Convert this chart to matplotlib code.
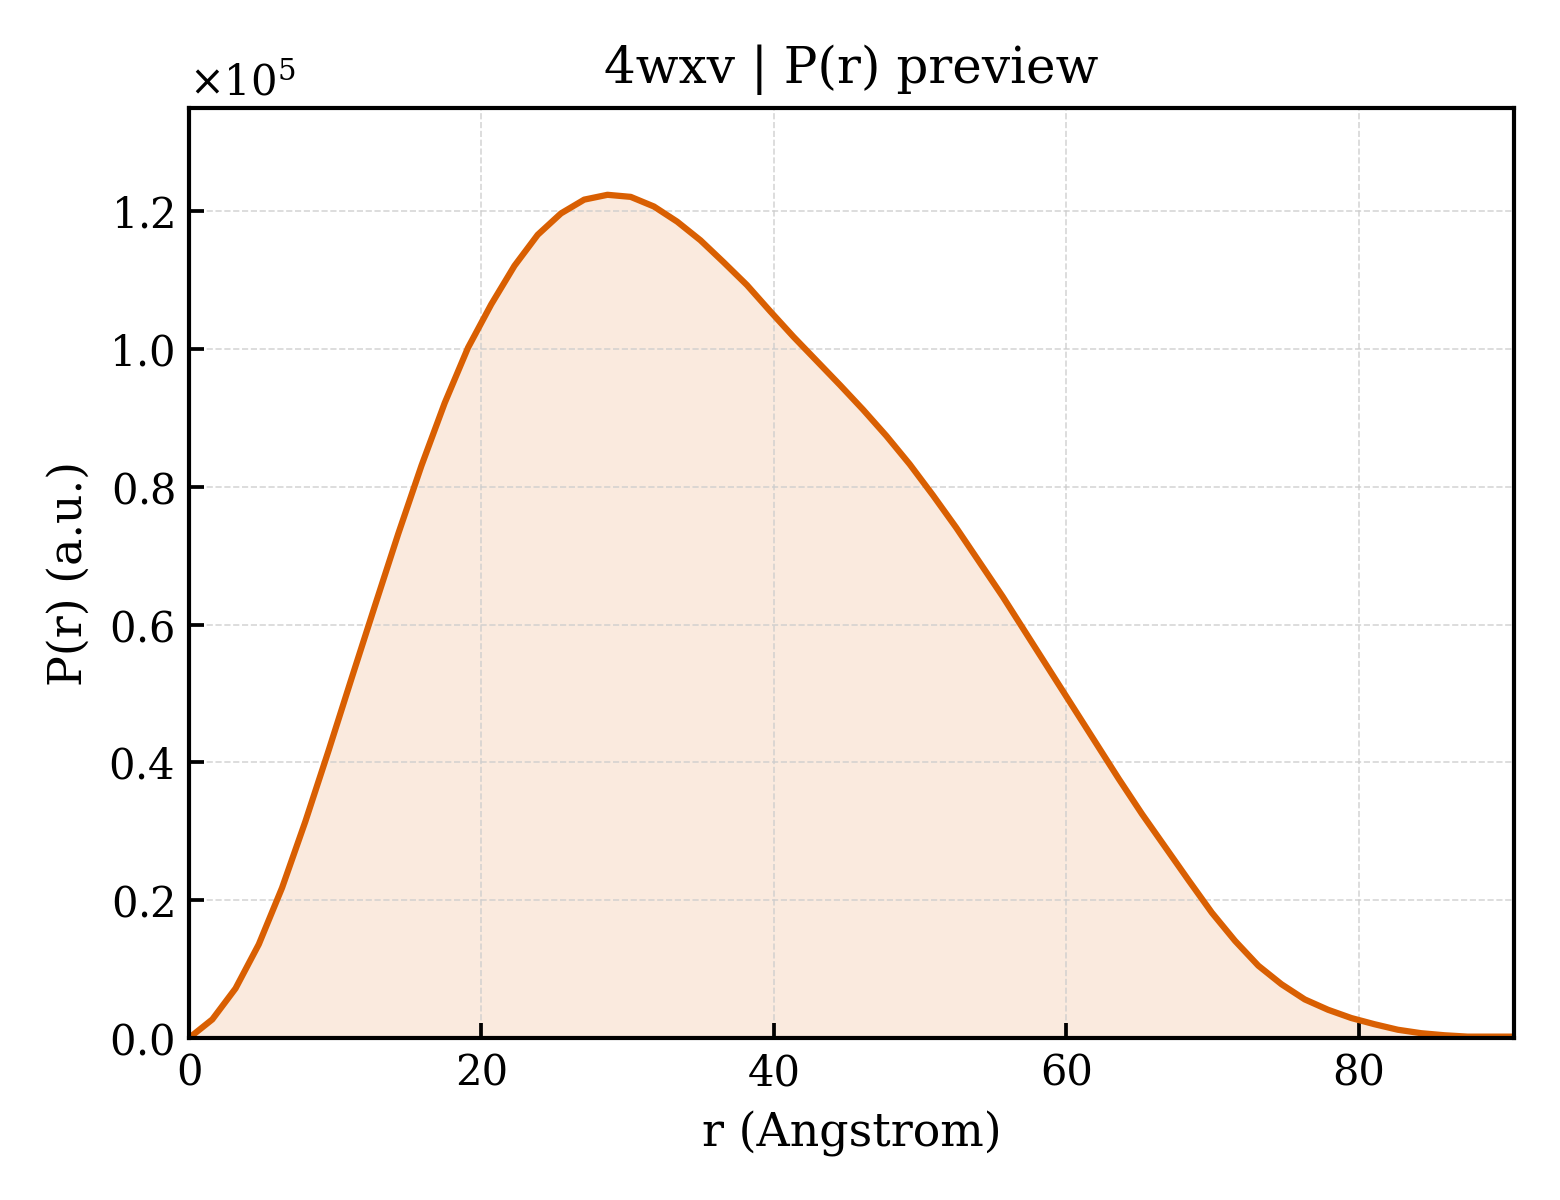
import numpy as np
import matplotlib
matplotlib.use("Agg")
import matplotlib.pyplot as plt
from matplotlib.ticker import ScalarFormatter

r = [0.00, 1.59, 3.18, 4.77, 6.36, 7.95, 9.54, 11.13, 12.72, 14.31,
     15.90, 17.49, 19.08, 20.67, 22.26, 23.85, 25.44, 27.03, 28.62, 30.21,
     31.80, 33.39, 34.98, 36.57, 38.16, 39.75, 41.34, 42.93, 44.52, 46.11,
     47.70, 49.29, 50.88, 52.47, 54.06, 55.65, 57.24, 58.83, 60.42, 62.01,
     63.60, 65.19, 66.78, 68.37, 69.96, 71.55, 73.14, 74.73, 76.32, 77.91,
     79.50, 81.09, 82.68, 84.27, 85.86, 87.45, 89.04, 90.63]
pr_scaled = [0.000, 0.027, 0.072, 0.136, 0.218, 0.314, 0.417, 0.523, 0.628, 0.732,
             0.831, 0.922, 1.002, 1.065, 1.121, 1.166, 1.197, 1.217, 1.224, 1.221,
             1.207, 1.185, 1.158, 1.126, 1.093, 1.055, 1.018, 0.983, 0.948, 0.912,
             0.874, 0.833, 0.788, 0.741, 0.691, 0.641, 0.588, 0.535, 0.482, 0.429,
             0.376, 0.325, 0.277, 0.229, 0.182, 0.141, 0.105, 0.078, 0.056, 0.041,
             0.029, 0.020, 0.012, 0.007, 0.004, 0.002, 0.002, 0.002]
pr = np.array(pr_scaled) * 1e5

title = "4wxv | P(r) preview"
xlabel = "r (Angstrom)"
ylabel = "P(r) (a.u.)"
color = "#D95F02"

plt.rcParams['font.family'] = ['DejaVu Serif']
plt.rcParams['mathtext.fontset'] = 'dejavuserif'

fig = plt.figure(figsize=(5.2, 4.0), dpi=300)
ax = fig.add_axes([0.1212, 0.135, 0.8493, 0.775])

ax.fill_between(r, pr, 0, color=color, alpha=0.13, linewidth=0)
ax.plot(r, pr, color=color, linewidth=1.5)

ax.set_xlim(0, max(r))
ax.set_ylim(0, 1.35e5)
ax.set_xticks([0, 20, 40, 60, 80])
ax.set_yticks(np.arange(0, 1.3e5, 0.2e5))

fmt = ScalarFormatter(useMathText=True)
fmt.set_powerlimits((0, 0))
ax.yaxis.set_major_formatter(fmt)
ax.yaxis.get_offset_text().set_fontsize(10)

ax.tick_params(direction='in', labelsize=10, width=0.9, length=3.5)
for s in ax.spines.values():
    s.set_linewidth(1.0)
ax.grid(True, linestyle='--', linewidth=0.4, color='#cccccc', alpha=0.8)

ax.set_title(title, fontsize=12)
ax.set_xlabel(xlabel, fontsize=11)
ax.set_ylabel(ylabel, fontsize=11)

fig.savefig("out.png", dpi=300)
